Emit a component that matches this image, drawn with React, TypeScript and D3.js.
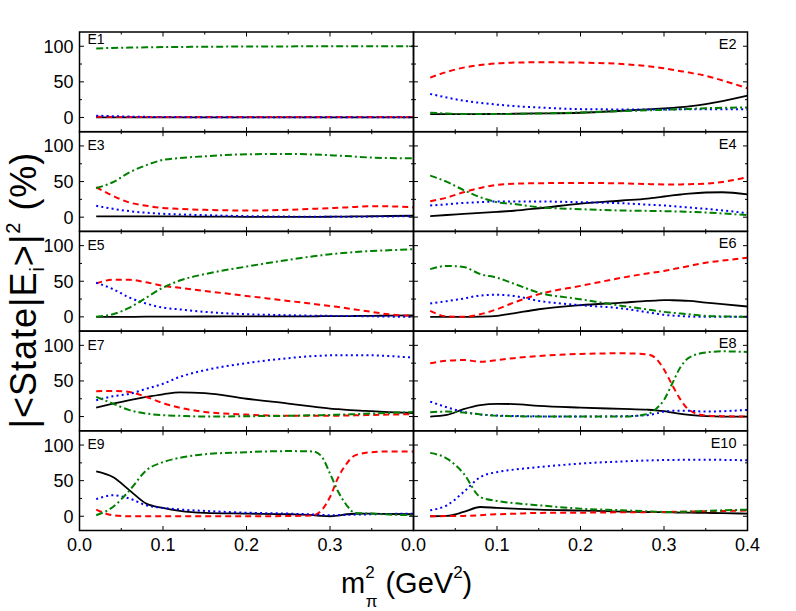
import React from "react";
import * as d3 from "d3";

// x grid (m_pi^2 in GeV^2)
const xs = [0.02, 0.04, 0.06, 0.08, 0.10, 0.12, 0.15, 0.20, 0.25, 0.28, 0.29, 0.30, 0.31, 0.32, 0.33, 0.35, 0.37, 0.40];

const panelNames = ["E1", "E2", "E3", "E4", "E5", "E6", "E7", "E8", "E9", "E10"];
const yTicks = [0, 50, 100];
const yMinor = [25, 75];
const xTicksLeft = [0, 0.1, 0.2, 0.3];
const xTicksRight = [0, 0.1, 0.2, 0.3, 0.4];

// series: black (solid), red (dashed), blue (dotted), green (dash-dot)
const E1_black = [0, 0, 0, 0, 0, 0, 0, 0, 0, 0, 0, 0, 0, 0, 0, 0, 0, 0];
const E1_red = [1, 0.8, 0.6, 0.5, 0.5, 0.5, 0.5, 0.5, 0.5, 0.5, 0.5, 0.5, 0.5, 0.5, 0.5, 0.5, 0.5, 0.5];
const E1_blue = [2.5, 1.8, 1.2, 0.8, 0.6, 0.5, 0.4, 0.4, 0.4, 0.4, 0.4, 0.4, 0.4, 0.4, 0.4, 0.4, 0.4, 0.4];
const E1_green = [97, 97.6, 98.1, 98.5, 98.8, 99, 99.3, 99.6, 99.8, 99.9, 99.9, 100, 100, 100, 100, 100, 100, 100];

const E2_black = [4.7, 4.7, 4.7, 4.8, 5, 5.2, 5.6, 6.6, 9.4, 11.3, 12, 12.7, 13.5, 14.5, 15.7, 18.8, 22.8, 30.5];
const E2_red = [56, 64, 70, 73.5, 76, 77, 77.5, 77, 75, 72, 70.5, 69, 67, 65, 63, 58.5, 52, 41];
const E2_blue = [33, 28, 23.5, 20.5, 18, 16, 14, 11.7, 11.3, 11.3, 11.3, 11.3, 11.3, 11.4, 11.5, 11.6, 11.7, 11.7];
const E2_green = [6.6, 5.5, 4.7, 4.7, 4.8, 5, 5.6, 7, 8.9, 10, 10.4, 10.8, 11.2, 11.6, 12, 13, 13.5, 14];

const E3_black = [1, 1, 1, 1, 1, 1, 0.8, 0.5, 0.3, 0.4, 0.5, 0.6, 0.7, 0.8, 1, 1.3, 1.6, 2];
const E3_red = [42, 30, 20.5, 16, 13, 11.5, 10.3, 9.3, 10.3, 11.8, 12.2, 12.6, 13.2, 13.7, 14.3, 15.4, 15.2, 14];
const E3_blue = [16, 11.7, 8.4, 6.2, 4.7, 3.8, 2.8, 1.4, 0.8, 0.5, 0.5, 0.5, 0.5, 0.5, 0.6, 0.8, 1, 1.4];
const E3_green = [40.7, 49, 63, 73, 80.4, 83, 85.5, 88.3, 88.8, 88, 87.6, 87, 86.4, 85.8, 85, 83.6, 83, 82.7];

const E4_black = [1.4, 3, 4.5, 6, 7.5, 9, 12.5, 19, 23.4, 26, 27.5, 29, 30.5, 31.8, 33, 34.6, 35, 32];
const E4_red = [22.4, 27.5, 35, 41, 45.3, 47, 47.7, 48, 47.5, 46.5, 46.2, 46, 46, 46, 46.3, 47, 49.5, 56];
const E4_blue = [16.4, 18, 20, 21, 22, 22, 22, 21, 19.5, 17.6, 17, 16.4, 15.5, 14.5, 13.5, 11.7, 9.5, 5.6];
const E4_green = [58.4, 49.5, 38, 28, 21, 18.5, 14, 11.2, 9.3, 8.8, 8.6, 8.4, 8.1, 7.8, 7.4, 6.5, 5.2, 2.8];

const E5_black = [0, 0, 0, 0.2, 0.3, 0.4, 0.5, 0.6, 0.7, 0.8, 0.9, 1, 1, 1.1, 1.2, 1.4, 1.7, 2];
const E5_red = [47, 52, 52, 48.5, 43.5, 40.8, 36.4, 29.4, 22.4, 18.2, 16.8, 15.4, 13.8, 12.1, 10.4, 7, 3.5, 1.4];
const E5_blue = [48, 39, 27, 18.7, 13, 10.5, 7, 3.7, 2.3, 1.6, 1.5, 1.4, 1.3, 1.2, 1.1, 0.8, 0.4, 0];
const E5_green = [0, 3.7, 13, 27, 41, 51, 60, 70.6, 80, 85, 86.5, 88, 89, 90, 91, 92.5, 93.5, 95];

const E6_black = [0, 0, 0, 0.3, 1.4, 5, 10.7, 16.4, 20, 22.3, 22.9, 23.4, 23.3, 23, 22.4, 20, 18, 14.5];
const E6_red = [8.4, 0.5, 0, 3.7, 10.7, 20, 31.8, 43.5, 55, 61, 62.7, 64.5, 66.8, 69, 71.4, 76, 79, 83];
const E6_blue = [18.7, 22, 25.7, 30, 31, 29.4, 22.4, 16.4, 11.7, 6.5, 4.6, 2.8, 1.9, 1.2, 0.6, 0, 0, 0];
const E6_green = [67, 71.5, 70, 60, 55, 46.7, 34, 24.8, 15.4, 10.5, 8.7, 7, 5.8, 4.6, 3.5, 1.4, 0.6, 0];

const E7_black = [12.6, 18, 23, 27.5, 31.3, 34, 33, 25, 18.2, 14, 12.5, 11.2, 10.3, 9.5, 8.7, 7.5, 6.3, 5];
const E7_red = [35.5, 36, 34.5, 27.5, 19, 12.5, 6.5, 2.8, 1, 1, 1, 1, 1.2, 1.4, 1.7, 2.3, 2.8, 3.3];
const E7_blue = [23, 28.5, 32, 39, 46, 55.6, 65, 75, 82, 85, 85.5, 86, 86, 86, 86, 86, 85, 82.7];
const E7_green = [27.6, 18.2, 9, 4.2, 1.9, 1, 0, 0.5, 1, 1.8, 2, 2.3, 2.7, 3, 3.4, 4.2, 5, 6.5];

const E8_black = [0, 2.3, 10.3, 16, 17.8, 17.5, 15, 12.6, 10.7, 9.6, 8.8, 7.5, 5.5, 3.7, 2.3, 0.5, 0, 0];
const E8_red = [74.8, 78.5, 79.4, 77, 79.4, 82, 85, 88, 88.8, 87.4, 82, 66, 44, 23.4, 9.3, 1.4, 0.5, 0];
const E8_blue = [21, 13, 6.5, 3, 1.4, 0.8, 0.3, 0, 0.5, 2, 4, 7, 8, 8, 8, 7, 7.5, 9.3];
const E8_green = [6, 7, 5.6, 3, 1, 0.5, 0, 0, 0, 3.3, 10.3, 23.4, 46.7, 70, 82.7, 90, 91.6, 90.7];

const E9_black = [63, 55, 36.4, 17.8, 11.7, 7.5, 4.7, 3.7, 2.8, 1.5, 0.5, 0, 1, 2.8, 3.5, 3.7, 3.2, 2.8];
const E9_red = [9.3, 1.4, 0, 0, 0, 0, 0, 0, 0.3, 1.4, 8.4, 27, 55, 74, 85.5, 90, 91, 91];
const E9_blue = [24, 29.4, 24.8, 15.4, 11.7, 9.5, 7.5, 5, 3.7, 2.5, 2, 1.4, 1.6, 2, 2.3, 2.8, 3.2, 3.7];
const E9_green = [1.4, 13, 36.4, 64.5, 76, 82, 87, 90, 91.5, 91, 84, 60, 34, 15.4, 4.7, 3.7, 2.5, 1.4];

const E10_black = [0, 0.5, 6, 13, 11.7, 10.7, 9.3, 8, 6.5, 6, 5.8, 5.6, 5.4, 5.2, 5, 4.7, 4.3, 3.7];
const E10_red = [0, 0.2, 0.5, 1.5, 2.8, 3.5, 4.7, 5, 5.6, 5.8, 5.9, 6, 6.2, 6.4, 6.6, 7, 7.4, 8];
const E10_blue = [8.4, 15.4, 34, 55, 62, 65.5, 69, 74, 77, 78.3, 78.6, 79, 79.1, 79.2, 79.3, 79.4, 79.2, 78.5];
const E10_green = [89, 81, 60, 27, 21.5, 18.5, 15.4, 10.7, 8.4, 7, 6.5, 6, 6, 6.3, 6.6, 7.5, 8.3, 9.3];

const panelSeries = [
  [E1_black, E1_red, E1_blue, E1_green],
  [E2_black, E2_red, E2_blue, E2_green],
  [E3_black, E3_red, E3_blue, E3_green],
  [E4_black, E4_red, E4_blue, E4_green],
  [E5_black, E5_red, E5_blue, E5_green],
  [E6_black, E6_red, E6_blue, E6_green],
  [E7_black, E7_red, E7_blue, E7_green],
  [E8_black, E8_red, E8_blue, E8_green],
  [E9_black, E9_red, E9_blue, E9_green],
  [E10_black, E10_red, E10_blue, E10_green],
];

const seriesStyles = [
  { color: "#000000", dash: "none", width: 1.8 },
  { color: "#ff0000", dash: "6,4", width: 2 },
  { color: "#0000ff", dash: "2,3.2", width: 2 },
  { color: "#008000", dash: "7,3,2,3", width: 2 },
];

const W = 796;
const H = 611;
const left = 79.5;
const colW = 334;
const top = 32;
const rowH = 99.7;
const font = "'Liberation Sans', Arial, Helvetica, sans-serif";

export default function App() {
  const x = d3.scaleLinear().domain([0, 0.4]).range([0, colW]);
  const y = d3.scaleLinear().domain([-20, 120]).range([rowH, 0]);
  const line = d3
    .line<[number, number]>()
    .x((d) => x(d[0]))
    .y((d) => y(d[1]))
    .curve(d3.curveMonotoneX);
  const majorX = d3.range(0, 0.4001, 0.1);
  const minorX = d3.range(0.05, 0.4, 0.1);
  const majorLen = 4.5;
  const minorLen = 2.5;

  return (
    <svg
      width={W}
      height={H}
      style={{ position: "absolute", left: 0, top: 0, background: "#fff" }}
      fontFamily={font}
    >
      <rect width={W} height={H} fill="#fff" />
      {panelSeries.map((series, i) => {
        const row = Math.floor(i / 2);
        const col = i % 2;
        const tx = left + col * colW;
        const ty = top + row * rowH;
        const isLeft = col === 0;
        return (
          <g key={i} transform={`translate(${tx},${ty})`}>
            {series.map((vals, s) => (
              <path
                key={s}
                d={line(xs.map((xv, k) => [xv, vals[k]] as [number, number])) || ""}
                fill="none"
                stroke={seriesStyles[s].color}
                strokeWidth={seriesStyles[s].width}
                strokeDasharray={seriesStyles[s].dash}
              />
            ))}
            {/* ticks */}
            {majorX.map((t, k) => (
              <g key={"mx" + k}>
                <line x1={x(t)} x2={x(t)} y1={0} y2={majorLen} stroke="#000" strokeWidth={1} />
                <line x1={x(t)} x2={x(t)} y1={rowH} y2={rowH - majorLen} stroke="#000" strokeWidth={1} />
              </g>
            ))}
            {minorX.map((t, k) => (
              <g key={"nx" + k}>
                <line x1={x(t)} x2={x(t)} y1={0} y2={minorLen} stroke="#000" strokeWidth={1} />
                <line x1={x(t)} x2={x(t)} y1={rowH} y2={rowH - minorLen} stroke="#000" strokeWidth={1} />
              </g>
            ))}
            {yTicks.map((t, k) => (
              <g key={"my" + k}>
                <line x1={0} x2={majorLen} y1={y(t)} y2={y(t)} stroke="#000" strokeWidth={1} />
                <line x1={colW} x2={colW - majorLen} y1={y(t)} y2={y(t)} stroke="#000" strokeWidth={1} />
              </g>
            ))}
            {yMinor.map((t, k) => (
              <g key={"ny" + k}>
                <line x1={0} x2={minorLen} y1={y(t)} y2={y(t)} stroke="#000" strokeWidth={1} />
                <line x1={colW} x2={colW - minorLen} y1={y(t)} y2={y(t)} stroke="#000" strokeWidth={1} />
              </g>
            ))}
            <rect x={0} y={0} width={colW} height={rowH} fill="none" stroke="#000" strokeWidth={1.5} />
            {/* y tick labels */}
            {isLeft &&
              yTicks.map((t, k) => (
                <text key={"yl" + k} x={-6} y={y(t)} dy="0.36em" textAnchor="end" fontSize={18}>
                  {t}
                </text>
              ))}
            {/* x tick labels on bottom row */}
            {row === 4 &&
              (isLeft ? xTicksLeft : xTicksRight).map((t, k) => (
                <text key={"xl" + k} x={x(t)} y={rowH + 21} textAnchor="middle" fontSize={18}>
                  {d3.format(".1f")(t)}
                </text>
              ))}
            {/* panel label */}
            {isLeft ? (
              <text x={8} y={i === 0 ? 12 : 18.5} fontSize={14}>
                {panelNames[i]}
              </text>
            ) : (
              <text x={colW - 11} y={17} textAnchor="end" fontSize={14.5}>
                {panelNames[i]}
              </text>
            )}
          </g>
        );
      })}
      {/* y axis title */}
      <text
        transform="translate(36,290) rotate(-90)"
        textAnchor="middle"
        fontSize={36}
        letterSpacing={1}
      >
        |&lt;State|E<tspan fontSize={20} dy={8}>i</tspan>
        <tspan dy={-8}>&gt;|</tspan>
        <tspan fontSize={20} dy={-16}>2</tspan>
        <tspan dy={16}> (%)</tspan>
      </text>
      {/* x axis title */}
      <text x={341} y={593} fontSize={29}>
        m<tspan fontSize={17} dy={-15}>2</tspan>
        <tspan fontSize={17} dx={-9} dy={29}>π</tspan>
        <tspan dy={-14}> (GeV</tspan>
        <tspan fontSize={17} dy={-15}>2</tspan>
        <tspan dy={15}>)</tspan>
      </text>
    </svg>
  );
}
